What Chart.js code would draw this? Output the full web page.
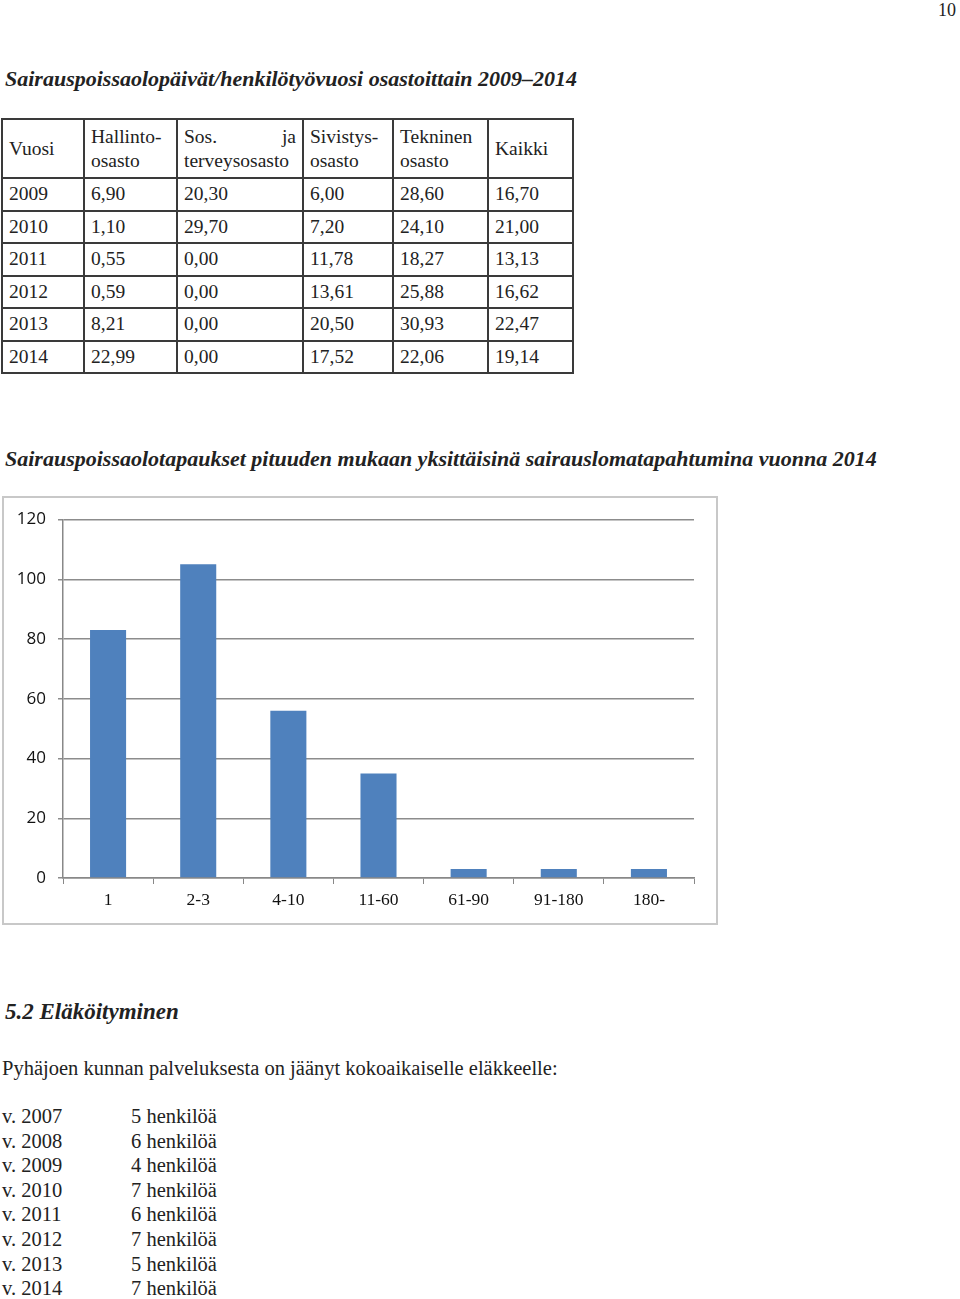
<!DOCTYPE html>
<html lang="fi">
<head>
<meta charset="UTF-8">
<title>Sairauspoissaolot</title>
<script src="https://cdn.jsdelivr.net/npm/chart.js"></script>
<style>
    body { margin: 0; width: 960px; height: 1299px; position: relative; background: #fff;
           font-family: "Liberation Serif", serif; color: #222; }
    .abs { position: absolute; white-space: nowrap; }
    .pageno { right: 4px; top: 0px; font-size: 18px; }
    .heading { font-style: italic; font-weight: bold; font-size: 22px; left: 5px; }
    table { position: absolute; left: 1px; top: 118px; border-collapse: collapse; font-size: 19.5px; }
    td { border: 2px solid #3a3a3a; padding: 0 6px; vertical-align: middle; height: 30.5px; line-height: 24px; }
    tr.head td { height: 57px; }
    #chartBox { position: absolute; left: 2px; top: 496px; width: 712px; height: 425px;
                border: 2px solid #c8c8c8; }
    .txt { font-size: 20.5px; left: 2px; }
</style>
</head>
<body>
<div class="abs pageno">10</div>
<div class="abs heading" style="top:66px">Sairauspoissaolopäivät/henkilötyövuosi osastoittain 2009–2014</div>

<table id="tbl">
    <colgroup>
        <col style="width:82px"><col style="width:93px"><col style="width:126px">
        <col style="width:90px"><col style="width:95px"><col style="width:85px">
    </colgroup>
</table>

<div class="abs heading" style="top:446px">Sairauspoissaolotapaukset pituuden mukaan yksittäisinä sairauslomatapahtumina vuonna 2014</div>

<div id="chartBox"><canvas id="chart"></canvas></div>

<div class="abs heading" style="top:999px;font-size:23px">5.2 Eläköityminen</div>
<div class="abs txt" style="top:1057px">Pyhäjoen kunnan palveluksesta on jäänyt kokoaikaiselle eläkkeelle:</div>
<div id="list"></div>

<script>
// taulukko
const tableYears = ["2009", "2010", "2011", "2012", "2013", "2014"];
const hallinto = ["6,90", "1,10", "0,55", "0,59", "8,21", "22,99"];
const sosTerveys = ["20,30", "29,70", "0,00", "0,00", "0,00", "0,00"];
const sivistys = ["6,00", "7,20", "11,78", "13,61", "20,50", "17,52"];
const tekninen = ["28,60", "24,10", "18,27", "25,88", "30,93", "22,06"];
const kaikki = ["16,70", "21,00", "13,13", "16,62", "22,47", "19,14"];

// kaavio
const categories = ["1", "2-3", "4-10", "11-60", "61-90", "91-180", "180-"];
const cases = [83, 105, 56, 35, 3, 3, 3];
const yTicks = [0, 20, 40, 60, 80, 100, 120];

// eläköityneet
const retireYears = ["2007", "2008", "2009", "2010", "2011", "2012", "2013", "2014"];
const retired = [5, 6, 4, 7, 6, 7, 5, 7];

const tbl = document.getElementById("tbl");
let html = `<tr class="head"><td>Vuosi</td><td>Hallinto-<br>osasto</td>
    <td><span style="display:flex;justify-content:space-between"><span>Sos.</span><span>ja</span></span>terveysosasto</td>
    <td>Sivistys-<br>osasto</td><td>Tekninen<br>osasto</td><td>Kaikki</td></tr>`;
tableYears.forEach((y, i) => {
    html += `<tr><td>${y}</td><td>${hallinto[i]}</td><td>${sosTerveys[i]}</td><td>${sivistys[i]}</td><td>${tekninen[i]}</td><td>${kaikki[i]}</td></tr>`;
});
tbl.insertAdjacentHTML("beforeend", html);

const list = document.getElementById("list");
retireYears.forEach((y, i) => {
    const top = 1105 + i * 24.6;
    list.insertAdjacentHTML("beforeend",
        `<div class="abs txt" style="top:${top}px">v. ${y}</div>` +
        `<div class="abs txt" style="top:${top}px;left:131px">${retired[i]} henkilöä</div>`);
});

new Chart(document.getElementById("chart"), {
    type: "bar",
    data: {
        labels: categories,
        datasets: [{
            data: cases,
            backgroundColor: "#4f81bd",
            barPercentage: 0.4,
            categoryPercentage: 1.0
        }]
    },
    options: {
        responsive: true,
        maintainAspectRatio: false,
        animation: false,
        layout: { padding: { top: 11, right: 22, left: 0, bottom: 0 } },
        plugins: { legend: { display: false }, tooltip: { enabled: false } },
        scales: {
            x: {
                grid: { display: true, drawOnChartArea: false, offset: true, tickLength: 6, color: "#888" },
                border: { color: "#888", width: 1.5 },
                ticks: { color: "#111", font: { family: "Liberation Serif", size: 17.5 }, padding: 6 },
                afterFit: s => { s.height = 45; }
            },
            y: {
                min: 0, max: 120,
                afterBuildTicks: s => { s.ticks = yTicks.map(v => ({ value: v })); },
                grid: { color: "#8c8c8c", lineWidth: 1.5, tickLength: 5 },
                border: { color: "#888", width: 1.5 },
                ticks: { color: "#111", font: { family: "Open Sans", size: 17, lineHeight: 1.12 }, padding: 12 },
                afterFit: s => { s.width = 59; }
            }
        }
    }
});
</script>
</body>
</html>
